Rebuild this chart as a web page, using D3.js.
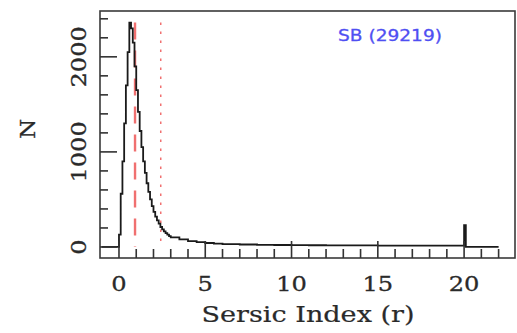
<!DOCTYPE html>
<html>
<head>
<meta charset="utf-8">
<script src="https://cdn.jsdelivr.net/npm/d3@7"></script>
<style>
  html, body { margin: 0; padding: 0; background: #fff; }
  svg { display: block; }
</style>
</head>
<body>
<svg id="chart" width="517" height="333"></svg>
<script>
// Histogram of Sersic index: bin edges and counts (counts per 0.1 in n)
const binEdges = [
  -1, 0, 0.1, 0.2, 0.3, 0.4, 0.5, 0.6, 0.7, 0.8, 0.9,
  1.0, 1.1, 1.2, 1.3, 1.4, 1.5, 1.6, 1.7, 1.8, 1.9,
  2.0, 2.1, 2.2, 2.3, 2.4, 2.5, 2.6, 2.7, 2.8, 2.9,
  3.0, 3.5, 4.0, 4.5, 5.0, 5.5, 6, 7, 8, 9, 10, 11, 12, 13, 14, 15, 16, 17, 18, 19,
  20, 20.1, 22
];
const counts = [
  0, 130, 560, 900, 1300, 1700, 2050, 2360, 2300, 2150, 1900,
  1650, 1420, 1220, 1050, 900, 780, 670, 580, 500, 430,
  370, 320, 280, 245, 210, 185, 165, 145, 130, 115,
  100, 80, 62, 50, 42, 36, 30, 26, 23, 21, 19, 18, 17, 16, 16, 15, 15, 14, 14, 14,
  230, 0
];

// Reference markers: dashed and dotted vertical lines
const markerX = [0.93, 2.42];
const markerStyle = ["dashed", "dotted"];
const markerTop = 2360;

const xTicks = [0, 5, 10, 15, 20];
const yTicks = [0, 1000, 2000];
const sampleLabel = "SB (29219)";

const svg = d3.select("#chart");
const frame = { left: 100, right: 515, top: 11, bottom: 258 };

const x = d3.scaleLinear().domain([-1.1, 22.95]).range([frame.left, frame.right]);
const y = d3.scaleLinear().domain([-116, 2482]).range([frame.bottom, frame.top]);

const ink = "#2a2a2a";
const serif = "'DejaVu Serif', 'Liberation Serif', serif";

// Marker lines
svg.selectAll("line.marker").data(markerX).enter().append("line")
  .attr("class", "marker")
  .attr("x1", d => x(d)).attr("x2", d => x(d))
  .attr("y1", y(markerTop)).attr("y2", y(0))
  .attr("stroke", "#f07070")
  .attr("stroke-width", (d, i) => markerStyle[i] === "dashed" ? 2.4 : 1.5)
  .attr("stroke-dasharray", (d, i) => markerStyle[i] === "dashed" ? "17,11" : "2.5,6.5");

// Histogram as a step line
const stepPts = [];
counts.forEach((c, i) => {
  stepPts.push([binEdges[i], c]);
  stepPts.push([binEdges[i + 1], c]);
});
const line = d3.line().x(d => x(d[0])).y(d => y(d[1]));
svg.append("path")
  .attr("d", line(stepPts))
  .attr("fill", "none")
  .attr("stroke", "#1a1a1a")
  .attr("stroke-width", 1.8);

// Frame
svg.append("rect")
  .attr("x", frame.left).attr("y", frame.top)
  .attr("width", frame.right - frame.left).attr("height", frame.bottom - frame.top)
  .attr("fill", "none").attr("stroke", "#3a3a3a").attr("stroke-width", 1.6);

// Inward tick marks: bottom (minor every 1, major every 5), left (minor every 200, major every 1000)
const xTickVals = d3.range(0, 23);
const yTickVals = d3.range(0, 2401, 200);
svg.append("g").attr("class", "xticks")
  .selectAll("rect").data(xTickVals).join("rect")
  .attr("x", d => x(d) - 0.8)
  .attr("y", d => frame.bottom - (d % 5 === 0 ? 17 : 9))
  .attr("width", 1.6)
  .attr("height", d => (d % 5 === 0 ? 17 : 9))
  .attr("fill", "#333");
svg.append("g").attr("class", "yticks")
  .selectAll("rect").data(yTickVals).join("rect")
  .attr("x", frame.left)
  .attr("y", d => y(d) - 0.8)
  .attr("width", d => (d % 1000 === 0 ? 17 : 8))
  .attr("height", 1.6)
  .attr("fill", "#333");

// Tick labels
svg.selectAll("text.xl").data(xTicks).enter().append("text")
  .attr("class", "xl")
  .attr("transform", d => `translate(${x(d)},291) scale(1.15,1)`)
  .attr("text-anchor", "middle")
  .attr("font-family", serif).attr("font-size", 21)
  .attr("fill", ink).attr("stroke", ink).attr("stroke-width", 0.3)
  .text(d => d);

svg.selectAll("text.yl").data(yTicks).enter().append("text")
  .attr("class", "yl")
  .attr("transform", d => `translate(86,${y(d)}) rotate(-90) scale(1.15,1)`)
  .attr("text-anchor", "middle")
  .attr("font-family", serif).attr("font-size", 21)
  .attr("fill", ink).attr("stroke", ink).attr("stroke-width", 0.3)
  .text(d => d);

// Axis titles
svg.append("text")
  .attr("x", 308).attr("y", 322)
  .attr("text-anchor", "middle")
  .attr("font-family", serif).attr("font-size", 22)
  .attr("textLength", 213).attr("lengthAdjust", "spacingAndGlyphs")
  .attr("fill", ink).attr("stroke", ink).attr("stroke-width", 0.2)
  .text("Sersic Index (r)");

svg.append("text")
  .attr("transform", `translate(35,129) rotate(-90) scale(1.1,1)`)
  .attr("text-anchor", "middle")
  .attr("font-family", serif).attr("font-size", 21)
  .attr("fill", ink).attr("stroke", ink).attr("stroke-width", 0.3)
  .text("N");

// Sample label
svg.append("text")
  .attr("x", 390).attr("y", 41)
  .attr("text-anchor", "middle")
  .attr("font-family", "'DejaVu Sans', sans-serif").attr("font-size", 16)
  .attr("textLength", 104).attr("lengthAdjust", "spacingAndGlyphs")
  .attr("fill", "#4f4ff2").attr("stroke", "#4f4ff2").attr("stroke-width", 0.3)
  .text(sampleLabel);
</script>
</body>
</html>
